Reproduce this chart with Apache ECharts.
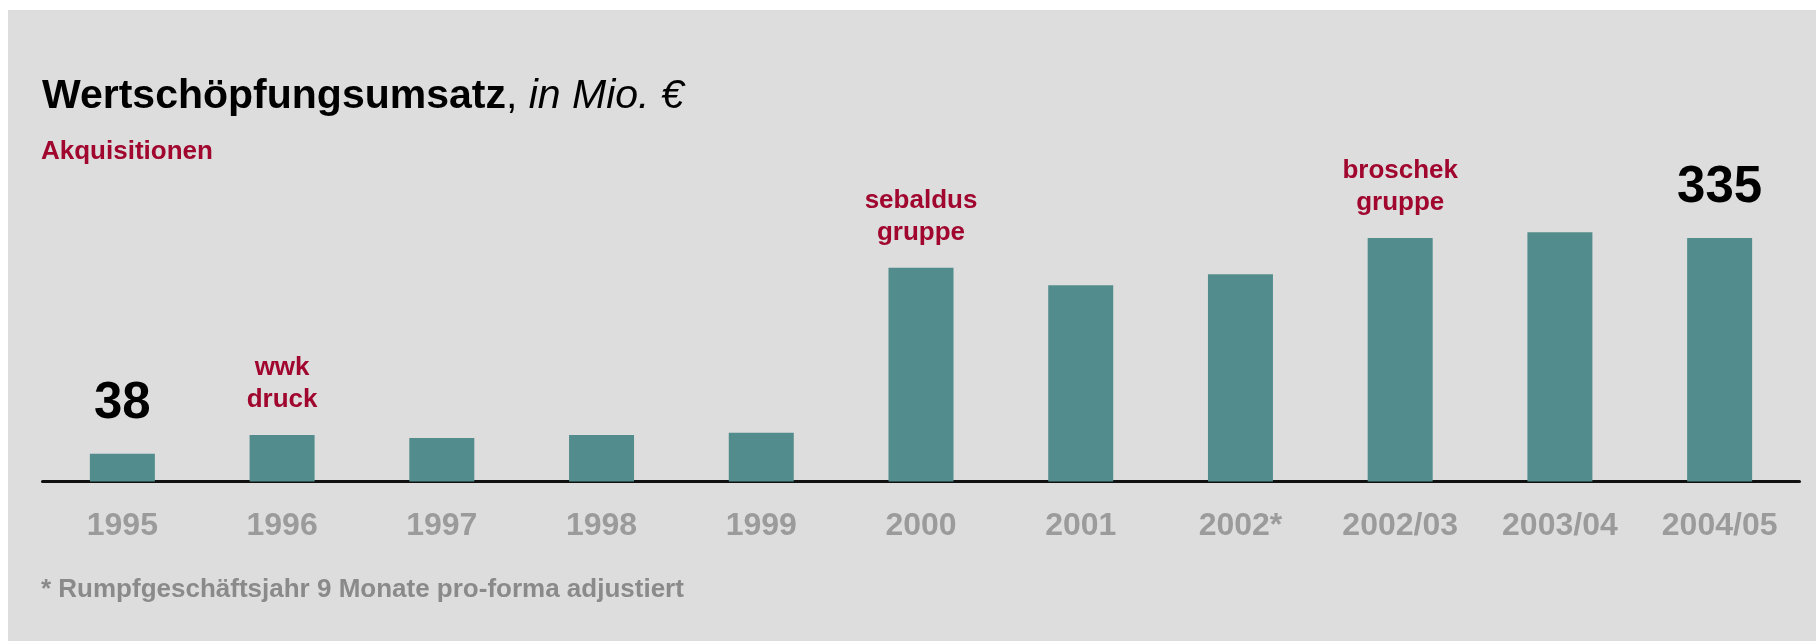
<!DOCTYPE html>
<html>
<head>
<meta charset="utf-8">
<title>Wertschöpfungsumsatz</title>
<script src="https://cdn.jsdelivr.net/npm/echarts@6/dist/echarts.min.js"></script>
<style>
  html, body { margin: 0; padding: 0; background: #ffffff; }
  #panel { position: absolute; left: 8px; top: 10px; right: 0; bottom: 0; background: #dddddd; }
  #chart { position: absolute; left: 0; top: 0; width: 1816px; height: 641px; }
</style>
</head>
<body>
<div id="panel"></div>
<div id="chart"></div>
<script>
// Value-added revenue per fiscal year, in million euro
const categories = ['1995', '1996', '1997', '1998', '1999', '2000', '2001', '2002*', '2002/03', '2003/04', '2004/05'];
const revenue = [38, 64, 60, 64, 67, 294, 270, 285, 335, 343, 335];
// Acquisitions made in a given year (shown above the bar)
const acquisitions = ['', 'wwk\ndruck', '', '', '', 'sebaldus\ngruppe', '', '', 'broschek\ngruppe', '', ''];
// Years whose value is written above the bar
const valueYears = ['1995', '2004/05'];

const FONT = '"Liberation Sans", Arial, Helvetica, sans-serif';
const BAR = '#528c8c';
const RED = '#a0062e';

const valueLabel = {
  show: true,
  position: 'top',
  distance: 24,
  formatter: '{c}',
  color: '#000000',
  fontFamily: FONT,
  fontWeight: 'bold',
  fontSize: 51,
  lineHeight: 52
};

function acquisitionLabel(text) {
  return {
    show: true,
    position: 'top',
    distance: 19,
    formatter: text,
    color: RED,
    fontFamily: FONT,
    fontWeight: 'bold',
    fontSize: 26,
    lineHeight: 32,
    align: 'center'
  };
}

const barData = revenue.map((v, i) => {
  const item = { value: v };
  if (valueYears.indexOf(categories[i]) >= 0) item.label = valueLabel;
  else if (acquisitions[i]) item.label = acquisitionLabel(acquisitions[i]);
  return item;
});

const chart = echarts.init(document.getElementById('chart'), null, { renderer: 'canvas' });

chart.setOption({
  backgroundColor: 'transparent',
  animation: false,
  title: [
    {
      left: 42,
      top: 73,
      padding: 0,
      text: '{b|Wertschöpfungsumsatz}{r|, }{i|in Mio. €}',
      textStyle: {
        rich: {
          b: { fontFamily: FONT, fontSize: 41, fontWeight: 'bold', color: '#000000', lineHeight: 48 },
          r: { fontFamily: FONT, fontSize: 41, fontWeight: 'normal', color: '#000000', lineHeight: 48 },
          i: { fontFamily: FONT, fontSize: 41, fontWeight: 'normal', fontStyle: 'italic', color: '#000000', lineHeight: 48 }
        }
      }
    },
    {
      left: 41,
      top: 136,
      padding: 0,
      text: 'Akquisitionen',
      textStyle: { fontFamily: FONT, fontSize: 26, fontWeight: 'bold', color: RED, lineHeight: 32 }
    },
    {
      left: 41,
      top: 574,
      padding: 0,
      text: '* Rumpfgeschäftsjahr 9 Monate pro-forma adjustiert',
      textStyle: { fontFamily: FONT, fontSize: 26, fontWeight: 'bold', color: '#8a8a8a', lineHeight: 32 }
    }
  ],
  grid: {
    left: 42.5,
    right: 16.5,
    top: 190.7,
    bottom: 159.5,
    containLabel: false
  },
  xAxis: {
    type: 'category',
    data: categories,
    offset: 1.5,
    axisLine: { show: true, lineStyle: { color: '#111111', width: 3 } },
    axisTick: { show: false },
    axisLabel: {
      margin: 27,
      color: '#9b9b9b',
      fontFamily: FONT,
      fontWeight: 'bold',
      fontSize: 32,
      lineHeight: 32,
      interval: 0
    },
    splitLine: { show: false }
  },
  yAxis: {
    type: 'value',
    min: 0,
    max: 400,
    show: false,
    splitLine: { show: false }
  },
  series: [
    {
      type: 'bar',
      data: barData,
      barWidth: 65,
      itemStyle: { color: BAR },
      emphasis: { disabled: true }
    }
  ]
});
</script>
</body>
</html>
